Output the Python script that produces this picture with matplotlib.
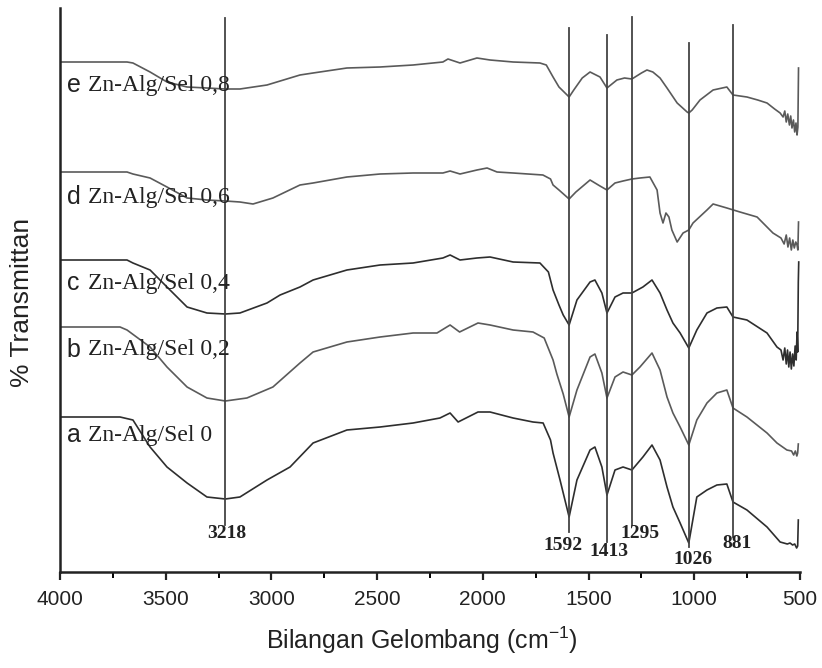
import matplotlib
matplotlib.use("Agg")
import matplotlib.pyplot as plt
from matplotlib.ticker import MultipleLocator

plt.rcParams['font.family'] = ['Liberation Sans', 'DejaVu Sans']
plt.rcParams['mathtext.fontset'] = 'custom'
plt.rcParams['mathtext.rm'] = 'Liberation Sans'
plt.rcParams['mathtext.it'] = 'Liberation Sans:italic'

# ---- data (wavenumber cm-1, relative transmittance, stacked) ----
wn_e = [4000, 3683, 3655, 3574, 3494, 3399, 3305, 3218, 3149, 3021, 2865, 2803, 2643, 2486, 2330,
        2189, 2165, 2108, 2028, 1966, 1857, 1730, 1700, 1668, 1640, 1592, 1570, 1530, 1493, 1446,
        1413, 1366, 1330, 1295, 1250, 1224, 1196, 1162, 1129, 1081, 1034, 1026, 1010, 973, 911,
        846, 817, 751, 700, 656, 620, 594, 580, 572, 565, 558, 550, 544, 538, 531, 525, 519, 514,
        510, 507]
t_e = [510, 510, 509, 500, 490, 485, 484, 483, 483, 487, 497, 499, 504, 505, 507,
       510, 513, 509, 514, 512, 510, 509, 507, 495, 485, 475, 482, 494, 500, 495,
       484, 492, 494, 493, 499, 502, 500, 494, 484, 469, 460, 459, 462, 472, 482,
       485, 477, 475, 472, 469, 463, 459, 455, 461, 450, 458, 447, 456, 444, 452, 440, 449, 437,
       445, 504]

wn_d = [4000, 3683, 3655, 3574, 3494, 3399, 3305, 3218, 3149, 3087, 2993, 2865, 2803, 2643, 2486,
        2330, 2189, 2155, 2108, 2028, 1980, 1933, 1857, 1716, 1680, 1668, 1640, 1592, 1560, 1493,
        1446, 1413, 1375, 1337, 1295, 1257, 1210, 1176, 1162, 1148, 1134, 1120, 1106, 1081, 1053,
        1026, 1006, 940, 911, 846, 784, 703, 628, 590, 575, 565, 557, 549, 541, 534, 527, 520, 514,
        510, 507]
t_d = [400, 400, 398, 394, 385, 374, 372, 371, 370, 368, 374, 387, 389, 395, 398,
       399, 399, 401, 398, 402, 404, 400, 399, 397, 393, 387, 382, 373, 380, 392,
       386, 382, 389, 391, 393, 394, 395, 382, 359, 349, 359, 355, 342, 330, 339,
       342, 349, 362, 368, 364, 360, 355, 339, 334, 328, 337, 325, 334, 322, 332, 324, 330, 327,
       322, 350]

wn_c = [4000, 3683, 3655, 3574, 3494, 3399, 3305, 3218, 3149, 3021, 2959, 2865, 2803, 2643, 2486,
        2330, 2189, 2155, 2108, 2028, 1966, 1857, 1730, 1690, 1668, 1640, 1620, 1592, 1555, 1493,
        1470, 1437, 1413, 1375, 1337, 1295, 1243, 1200, 1162, 1129, 1101, 1067, 1026, 988, 940,
        893, 846, 817, 751, 656, 609, 590, 580, 572, 565, 559, 553, 547, 541, 535, 529, 523, 518,
        514, 511, 508, 506]
t_c = [312, 312, 309, 302, 285, 265, 259, 258, 259, 269, 277, 285, 292, 302, 307,
       309, 314, 317, 312, 314, 315, 310, 309, 300, 282, 267, 257, 247, 272, 290,
       292, 279, 259, 275, 279, 279, 285, 292, 279, 262, 249, 239, 224, 242, 259,
       264, 265, 255, 252, 239, 225, 222, 212, 224, 208, 222, 205, 220, 203, 218, 206, 226, 212,
       240, 220, 290, 310]

wn_b = [4000, 3716, 3683, 3574, 3494, 3399, 3305, 3218, 3116, 2993, 2865, 2803, 2643, 2486, 2330,
        2217, 2155, 2110, 2023, 1966, 1857, 1763, 1710, 1668, 1650, 1620, 1592, 1555, 1493, 1470,
        1437, 1413, 1375, 1337, 1295, 1257, 1200, 1162, 1129, 1101, 1067, 1026, 988, 940, 893,
        846, 817, 751, 656, 609, 562, 540, 530, 522, 515, 511, 508]
t_b = [245, 245, 242, 225, 205, 185, 174, 171, 174, 185, 209, 220, 230, 235, 239,
       239, 247, 240, 249, 247, 242, 240, 234, 212, 198, 178, 155, 182, 215, 218,
       199, 174, 195, 200, 197, 205, 219, 202, 175, 159, 145, 127, 152, 169, 179,
       182, 164, 155, 139, 129, 122, 121, 117, 121, 116, 119, 128]

wn_a = [4000, 3716, 3655, 3574, 3494, 3399, 3305, 3218, 3149, 3021, 2912, 2803, 2643, 2486, 2330,
        2203, 2155, 2117, 2023, 1966, 1857, 1763, 1715, 1680, 1668, 1635, 1592, 1555, 1493, 1470,
        1437, 1413, 1375, 1337, 1295, 1243, 1200, 1162, 1129, 1101, 1067, 1026, 988, 940, 893,
        846, 817, 751, 656, 594, 560, 547, 535, 525, 516, 511, 508]
t_a = [155, 155, 152, 125, 105, 89, 75, 73, 75, 92, 105, 129, 142, 145, 149,
       154, 159, 150, 160, 160, 154, 150, 149, 132, 119, 92, 55, 92, 122, 125,
       105, 77, 102, 105, 102, 115, 127, 112, 85, 65, 49, 29, 75, 82, 87,
       88, 70, 62, 45, 30, 28, 29, 27, 28, 24, 26, 52]

series = [
    ("e", "Zn-Alg/Sel 0,8", wn_e, t_e, "#5a5a5a", 487),
    ("d", "Zn-Alg/Sel 0,6", wn_d, t_d, "#5a5a5a", 375),
    ("c", "Zn-Alg/Sel 0,4", wn_c, t_c, "#2e2e2e", 289),
    ("b", "Zn-Alg/Sel 0,2", wn_b, t_b, "#5a5a5a", 222),
    ("a", "Zn-Alg/Sel 0", wn_a, t_a, "#2e2e2e", 137),
]

# marker lines: drawn position, label text, top, bottom, label position
peak_pos = [3218, 1592, 1413, 1295, 1026, 817]
peak_labels = ["3218", "1592", "1413", "1295", "1026", "881"]
peak_top = [554, 544, 537, 555, 529, 547]
peak_bottom = [47, 40, 30, 47, 25, 35]
peak_label_x = [3210, 1621, 1403, 1257, 1006, 798]
peak_label_y = [38, 27, 20, 39, 12, 29]

xticks = [4000, 3500, 3000, 2500, 2000, 1500, 1000, 500]

fig = plt.figure(figsize=(8.22, 6.68), dpi=100)
ax = fig.add_axes([60/822, 96/668, 740/822, 564/668])

for letter, name, wn, t, col, ly in series:
    ax.plot(wn, t, color=col, lw=1.2)
    ax.text(3968, ly, letter, fontsize=18, ha='left', va='center',
            family=['Liberation Sans'], color='#222222')
    ax.text(3868, ly, name, fontsize=17, ha='left', va='center',
            family=['Liberation Serif'], color='#222222')

for p, top, bot in zip(peak_pos, peak_top, peak_bottom):
    ax.plot([p, p], [bot, top], color='#444444', lw=1.3)
for lab, lx, lyy in zip(peak_labels, peak_label_x, peak_label_y):
    ax.text(lx, lyy, lab, fontsize=14, fontweight='bold', ha='center', va='center',
            family=['Liberation Serif'], color='#222222')

ax.set_xlim(4000, 500)
ax.set_ylim(0, 564)
ax.set_xticks(xticks)
ax.set_xticklabels([str(v) for v in xticks])
ax.xaxis.set_minor_locator(MultipleLocator(250))
ax.set_yticks([])
ax.tick_params(axis='x', which='major', direction='out', length=6, width=1.6,
               labelsize=15, pad=7, colors='#222222')
ax.tick_params(axis='x', which='minor', direction='out', length=4, width=1.4)
for s in ['top', 'right']:
    ax.spines[s].set_visible(False)
for s in ['left', 'bottom']:
    ax.spines[s].set_linewidth(1.8)
    ax.spines[s].set_color('#222222')

fig.text(422/822, 1 - 640/668, 'Bilangan Gelombang (cm$^{-1}$)', fontsize=18,
         ha='center', va='center', color='#222222')
fig.text(22/822, 1 - 302/668, '% Transmittan', fontsize=19, rotation=90,
         ha='center', va='center', color='#222222')

fig.savefig('out.png', dpi=100, facecolor='white')
